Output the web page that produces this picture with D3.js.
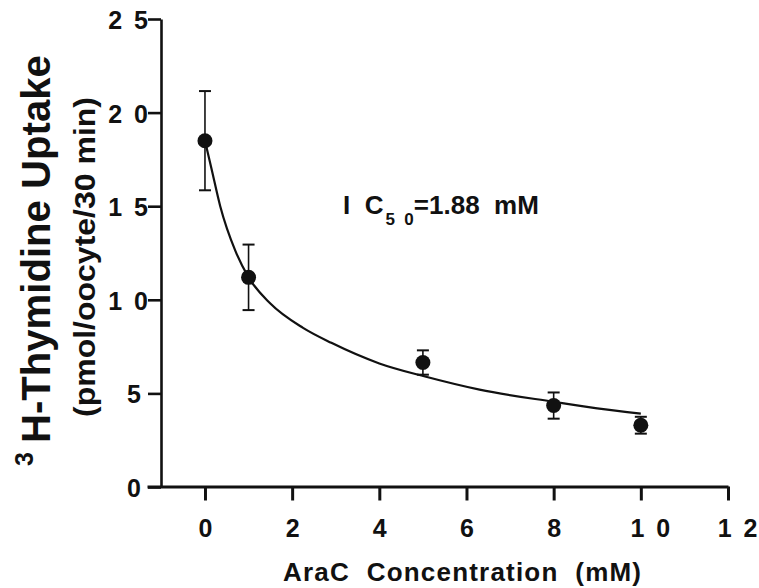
<!DOCTYPE html>
<html>
<head>
<meta charset="utf-8">
<script src="https://cdn.jsdelivr.net/npm/d3@7"></script>
<style>
  html, body { margin: 0; padding: 0; background: #fff; }
  svg { display: block; }
  text { font-family: "Liberation Sans", Arial, Helvetica, sans-serif; font-weight: bold; fill: #111; white-space: pre; }
  .tick text { font-size: 25px; word-spacing: 5px; }
</style>
</head>
<body>
<svg id="chart" width="759" height="588"></svg>
<script>
// ---- data ----
const concentrations = [0, 1, 5, 8, 10];
const uptake = [18.5, 11.2, 6.65, 4.35, 3.3];
const uptakeErr = [2.65, 1.75, 0.65, 0.7, 0.45];
// fitted curve
const fitX = [0, 0.15, 0.35, 0.7, 1.0, 1.5, 2.25, 2.9, 4.0, 5.05, 6.3, 8.0, 9.0, 10.0];
const fitY = [18.5, 17.0, 15.0, 12.6, 11.2, 9.8, 8.5, 7.7, 6.6, 5.9, 5.2, 4.55, 4.2, 3.92];
const xTicks = [0, 2, 4, 6, 8, 10, 12];
const xTickLabels = ["0", "2", "4", "6", "8", "1 0", "1 2"];
const yTicks = [0, 5, 10, 15, 20, 25];
const yTickLabels = ["0", "5", "1 0", "1 5", "2 0", "2 5"];
const xTitle = "AraC  Concentration  (mM)";
const yTitleSup = "3";
const yTitleMain = "H-Thymidine Uptake";
const yTitleSub = "(pmol/oocyte/30 min)";

// ---- layout ----
const svg = d3.select("#chart");
const ink = "#111";
const x = d3.scaleLinear().domain([-1.33, 12]).range([147, 728]);
const y = d3.scaleLinear().domain([0, 25]).range([487, 19]);

// y axis
const yAxis = d3.axisLeft(y)
  .tickValues(yTicks)
  .tickSize(13)
  .tickSizeOuter(0)
  .tickPadding(7)
  .tickFormat((d, i) => yTickLabels[i]);
const gy = svg.append("g").attr("transform", "translate(161,0)").call(yAxis);
gy.attr("font-size", null).attr("font-family", null);
gy.select(".domain").attr("stroke", ink).attr("stroke-width", 2.6);
gy.selectAll(".tick line").attr("stroke", ink).attr("stroke-width", 2.6);
gy.selectAll(".tick text")
  .attr("fill", ink)
  .attr("dx", (d, i) => yTickLabels[i].length > 1 ? 7 : 0)
  .attr("dy", "0.38em");

// x axis
const xAxis = d3.axisBottom(x)
  .tickValues(xTicks)
  .tickSize(14)
  .tickSizeOuter(0)
  .tickPadding(19)
  .tickFormat((d, i) => xTickLabels[i]);
const gx = svg.append("g").attr("transform", "translate(0,486.5)").call(xAxis);
gx.attr("font-size", null).attr("font-family", null);
gx.select(".domain").attr("stroke", ink).attr("stroke-width", 3);
gx.selectAll(".tick line").attr("stroke", ink).attr("stroke-width", 3);
gx.selectAll(".tick text")
  .attr("fill", ink)
  .attr("dx", (d, i) => xTickLabels[i].length > 1 ? 9 : 0);
svg.selectAll(".domain").attr("fill", "none");

// fitted curve
const line = d3.line().x(d => x(d[0])).y(d => y(d[1])).curve(d3.curveMonotoneX);
svg.append("path")
  .datum(fitX.map((v, i) => [v, fitY[i]]))
  .attr("d", line)
  .attr("fill", "none")
  .attr("stroke", ink)
  .attr("stroke-width", 2.2);

// error bars
const pts = concentrations.map((c, i) => ({ c, v: uptake[i], e: uptakeErr[i] }));
const eb = svg.append("g").attr("stroke", ink).attr("stroke-width", 1.6);
pts.forEach(p => {
  eb.append("line").attr("x1", x(p.c)).attr("x2", x(p.c)).attr("y1", y(p.v - p.e)).attr("y2", y(p.v + p.e));
  eb.append("line").attr("x1", x(p.c) - 6).attr("x2", x(p.c) + 6).attr("y1", y(p.v + p.e)).attr("y2", y(p.v + p.e)).attr("stroke-width", 2);
  eb.append("line").attr("x1", x(p.c) - 6).attr("x2", x(p.c) + 6).attr("y1", y(p.v - p.e)).attr("y2", y(p.v - p.e)).attr("stroke-width", 2);
});

// markers
svg.append("g").selectAll("circle").data(pts).join("circle")
  .attr("cx", d => x(d.c)).attr("cy", d => y(d.v)).attr("r", 7.5)
  .attr("fill", ink);

// annotation
const ann = svg.append("text").attr("x", 343).attr("y", 214).style("font-size", "26px");
ann.append("tspan").text("I  C");
ann.append("tspan").style("font-size", "17px").attr("dy", 11).attr("dx", 2).text("5  0");
ann.append("tspan").attr("dy", -11).text("=1.88  mM");

// x title
svg.append("text")
  .attr("x", 462).attr("y", 581)
  .attr("text-anchor", "middle")
  .style("font-size", "26px")
  .attr("textLength", 358)
  .attr("lengthAdjust", "spacing")
  .text(xTitle);

// y title main (rotated)
const yt = svg.append("text")
  .attr("transform", "translate(50,466) rotate(-90)")
  .attr("x", 0).attr("y", 0);
yt.append("tspan").style("font-size", "25px").attr("dy", -17).text(yTitleSup);
yt.append("tspan").style("font-size", "40px").attr("dy", 17).attr("dx", 9)
  .attr("textLength", 388).attr("lengthAdjust", "spacingAndGlyphs").text(yTitleMain);

// y title sub (rotated)
svg.append("text")
  .attr("transform", "translate(95,257) rotate(-90)")
  .attr("text-anchor", "middle")
  .style("font-size", "29px")
  .attr("textLength", 320)
  .attr("lengthAdjust", "spacingAndGlyphs")
  .text(yTitleSub);
</script>
</body>
</html>
